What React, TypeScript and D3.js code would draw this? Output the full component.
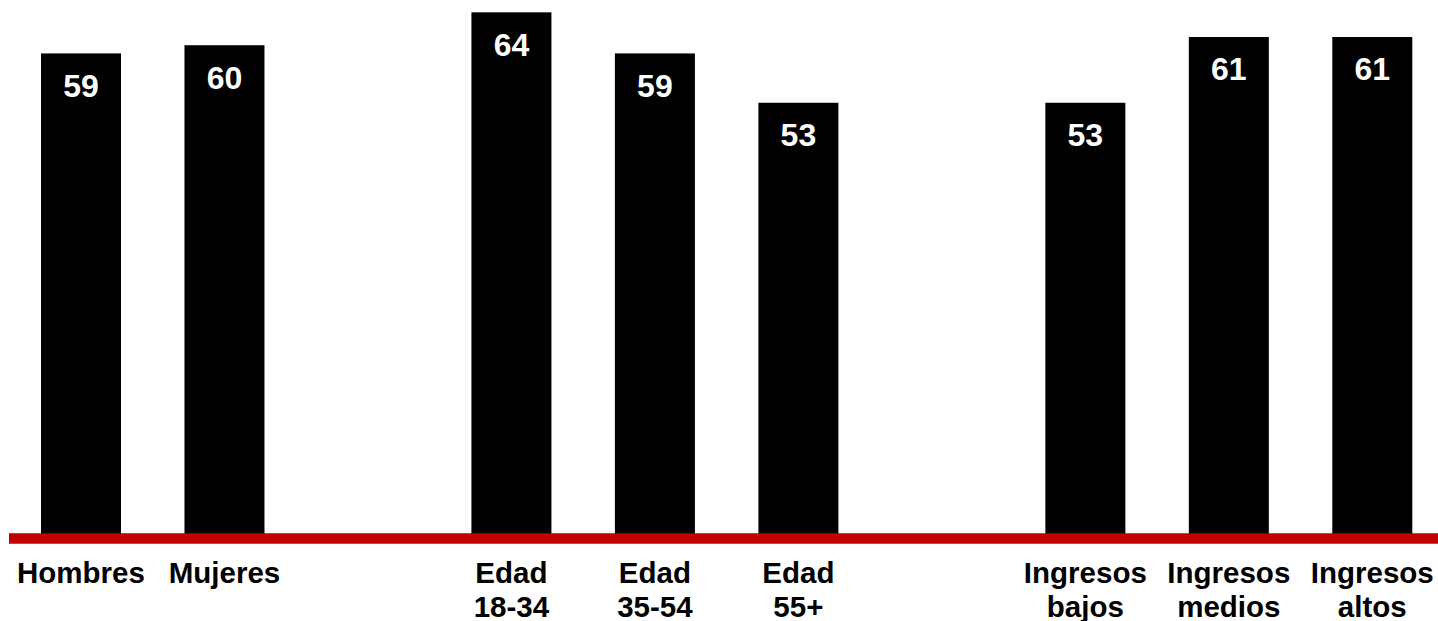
import React from 'react';
import * as d3 from 'd3';

// slots in order; gaps are empty slots between the groups
const slots = ['Hombres', 'Mujeres', 'gap1', 'gap2', 'Edad 18-34', 'Edad 35-54', 'Edad 55+', 'gap3', 'Ingresos bajos', 'Ingresos medios', 'Ingresos altos'];
const categories = ['Hombres', 'Mujeres', 'Edad 18-34', 'Edad 35-54', 'Edad 55+', 'Ingresos bajos', 'Ingresos medios', 'Ingresos altos'];
const values = [59, 60, 64, 59, 53, 53, 61, 61];
const labelLines = [
  ['Hombres'],
  ['Mujeres'],
  ['Edad', '18-34'],
  ['Edad', '35-54'],
  ['Edad', '55+'],
  ['Ingresos', 'bajos'],
  ['Ingresos', 'medios'],
  ['Ingresos', 'altos'],
];

const W = 1438;
const H = 621;
const baseY = 538.5;

const App: React.FC = () => {
  // 10 layout slots: two blank ones between the groups
  const domain = slots.filter(s => s !== 'gap1');
  const x = d3.scaleBand<string>()
    .domain(domain)
    .range([12.3, 1441])
    .paddingInner(0.4424)
    .paddingOuter(0.2);

  const y = d3.scaleLinear().domain([0, 65.5]).range([baseY, 0]);

  const font = "'Liberation Sans', Arial, Helvetica, sans-serif";

  return (
    <svg
      width={W}
      height={H}
      style={{ position: 'absolute', left: 0, top: 0, background: '#fff' }}
    >
      {categories.map((c, i) => {
        const x0 = x(c) ?? 0;
        const bw = x.bandwidth();
        const top = y(values[i]);
        return (
          <g key={c}>
            <rect x={x0} y={top} width={bw} height={baseY - top} fill="#000" />
            <text
              x={x0 + bw / 2}
              y={top + 43.5}
              textAnchor="middle"
              fill="#fff"
              fontFamily={font}
              fontWeight="bold"
              fontSize={32}
            >
              {values[i]}
            </text>
            <text
              x={x0 + bw / 2}
              y={583.3}
              textAnchor="middle"
              fill="#000"
              fontFamily={font}
              fontWeight="bold"
              fontSize={29.5}
            >
              {labelLines[i].map((line, j) => (
                <tspan key={j} x={x0 + bw / 2} dy={j === 0 ? 0 : 34}>{line}</tspan>
              ))}
            </text>
          </g>
        );
      })}
      <line x1={9} x2={W} y1={baseY} y2={baseY} stroke="#C00000" strokeWidth={10.5} />
    </svg>
  );
};

export default App;
